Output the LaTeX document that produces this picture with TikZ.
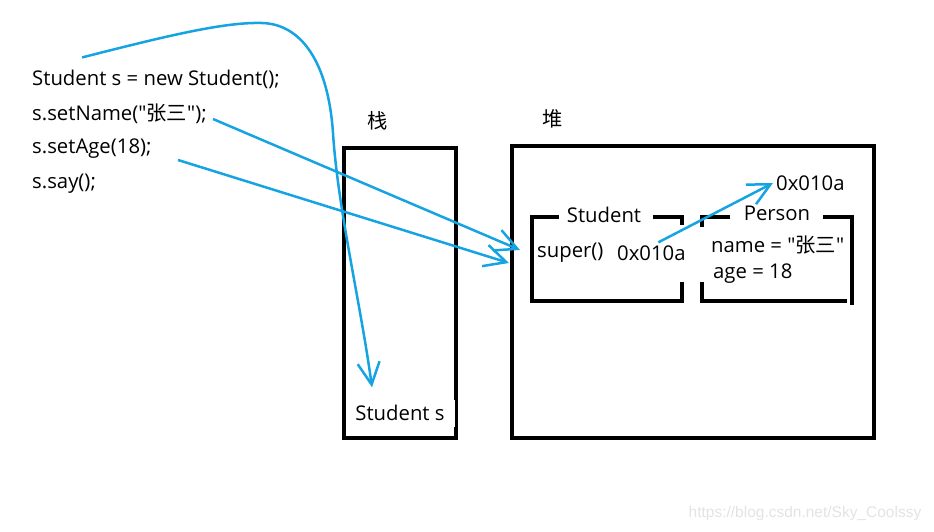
\documentclass[tikz,border=0pt]{standalone}
\usepackage{fontspec}
\newfontfamily\uifont{Open Sans}
\newfontfamily\cjk{Noto Sans CJK SC}
\newfontfamily\wmfont{Liberation Sans}
\usetikzlibrary{positioning, arrows.meta}
\definecolor{refblue}{RGB}{22,163,226}
\tikzset{
x=1pt, y=-1pt, % pixel coordinates, y grows downward
txt/.style={inner sep=0pt, font=\uifont\fontsize{20.3}{24}\selectfont}, % every text
code/.style={txt, anchor=west}, % one line of the program
frame/.style={draw, line width=4pt}, % black walls of stack, heap and objects
box/.style={minimum width=150pt, minimum height=84pt, inner sep=0pt, outer sep=0pt}, % invisible object frame
ref/.style={draw=refblue, line width=2.5pt, -{Straight Barb[length=22pt, width=22pt]}}, % blue pointer
}
\begin{document}
\begin{tikzpicture}
    \useasboundingbox (0,0) rectangle (934,532);

    % the program
    \node[code] (l1) at (32,79) {Student s = new Student();};
    \node[code] (l2) at (32,114) {s.setName("{\cjk 张三}");};
    \node[code] (l3) at (32,149) {s.setAge(18);};
    \node[code] (l4) at (32,184) {s.say();};

    % stack and heap
    \node[frame, minimum width=112pt, minimum height=290pt, outer sep=0pt] (stack) at (400,293) {};
    \node[frame, minimum width=362pt, minimum height=292pt, outer sep=0pt] (heap) at (693,292) {};
    \node[txt] (stackt) at (378,121) {\cjk 栈};
    \node[txt] (heapt) at (553,119) {\cjk 堆};
    \node[txt, fill=white, minimum width=109pt, minimum height=27pt] (ss) at (400,413) {Student s};

    % Student object
    \node[box] (stud) at (607,259) {};
    \draw[frame] ([xshift=27pt]stud.north west) -- (stud.north west) -- (stud.south west)
        -- (stud.south east) -- ([yshift=19pt]stud.south east);
    \draw[frame] ([xshift=-29pt]stud.north east) -- (stud.north east) -- ([yshift=-8pt]stud.north east);
    \node[txt] (studt) at (604,215) {Student};
    \node[code] (sup) at (537,253) {super()};
    \node[code] (saddr) at (617,253) {0x010a};

    % Person object
    \node[box] (pers) at (777,259) {};
    \draw[frame] ([xshift=28pt]pers.north west) -- (pers.north west) -- ([yshift=-10pt]pers.north west);
    \draw[frame] ([yshift=19pt]pers.south west) -- (pers.south west) -- ([xshift=-5pt]pers.south east);
    \draw[frame] ([xshift=-29pt]pers.north east) -- (pers.north east) -- ([yshift=-4pt]pers.south east);
    \node[txt] (perst) at (777,213) {Person};
    \node[code] (pname) at (711,245) {name = "{\cjk 张三}"};
    \node[code] (page) at (713,274) {age = 18};
    \node[code] (addr) at (776,183) {0x010a};

    % pointers
    \draw[ref] ([shift={(50pt,12pt)}]l1.north west) .. controls (170,35) and (225,22) .. (262,23)
        .. controls (300,24) and (328,60) .. (333,133)
        .. controls (338,210) and (360,300) .. ([shift={(-28pt,12pt)}]ss.north);
    \draw[ref] (213,119) -- ([shift={(-12pt,9pt)}]stud.west);
    \draw[ref] (178,160) -- ([shift={(-23pt,-4pt)}]stud.west);
    \draw[ref] ([shift={(7pt,3pt)}]saddr.north) -- ([xshift=-3pt]addr.west);

    \node[font=\wmfont\fontsize{15.5}{18}\selectfont, text=gray!22, inner sep=0pt] (wm) at (805,513) {https://blog.csdn.net/Sky\_Coolssy};
\end{tikzpicture}
\end{document}
